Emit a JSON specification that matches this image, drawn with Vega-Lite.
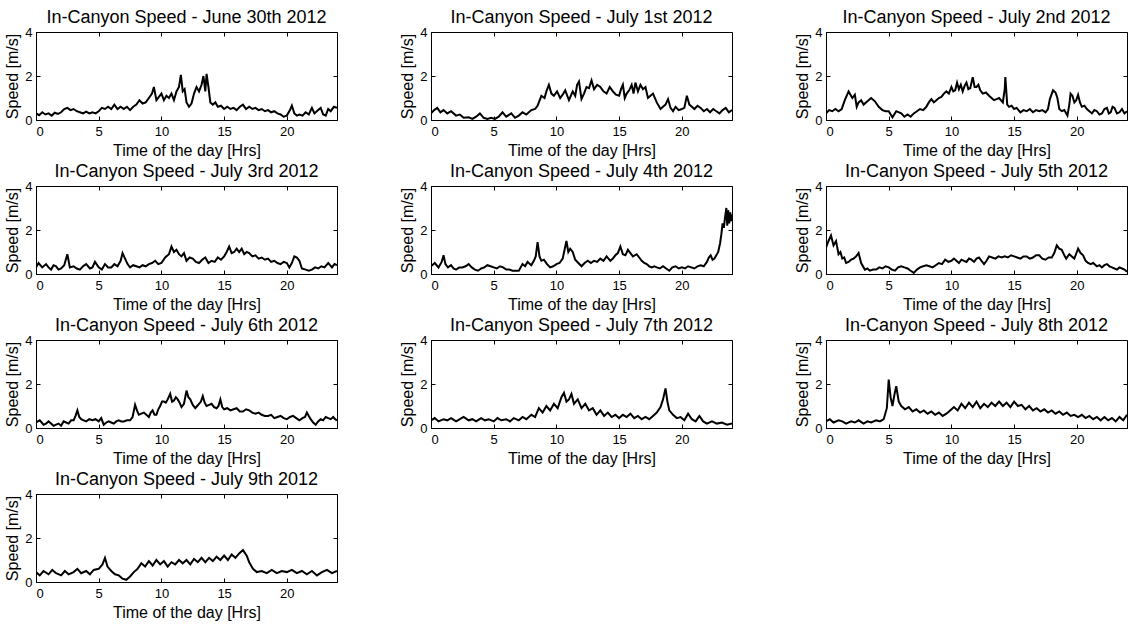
{
  "$schema": "https://vega.github.io/schema/vega-lite/v6.json",
  "background": "white",
  "padding": {"left": 4, "top": 8, "right": 5, "bottom": 5},
  "bounds": "flush",
  "datasets": {
    "days": [
      {"d": 1, "title": "In-Canyon Speed - June 30th 2012"},
      {"d": 2, "title": "In-Canyon Speed - July 1st 2012"},
      {"d": 3, "title": "In-Canyon Speed - July 2nd 2012"},
      {"d": 4, "title": "In-Canyon Speed - July 3rd 2012"},
      {"d": 5, "title": "In-Canyon Speed - July 4th 2012"},
      {"d": 6, "title": "In-Canyon Speed - July 5th 2012"},
      {"d": 7, "title": "In-Canyon Speed - July 6th 2012"},
      {"d": 8, "title": "In-Canyon Speed - July 7th 2012"},
      {"d": 9, "title": "In-Canyon Speed - July 8th 2012"},
      {"d": 10, "title": "In-Canyon Speed - July 9th 2012"}
    ],
    "speed": [
      {"d":1,"t":0,"v":0.3},{"d":1,"t":0.25,"v":0.22},{"d":1,"t":0.5,"v":0.35},{"d":1,"t":0.75,"v":0.25},{"d":1,"t":1,"v":0.3},{"d":1,"t":1.25,"v":0.2},{"d":1,"t":1.5,"v":0.33},{"d":1,"t":1.75,"v":0.28},{"d":1,"t":2,"v":0.35},{"d":1,"t":2.25,"v":0.5},{"d":1,"t":2.5,"v":0.55},{"d":1,"t":2.75,"v":0.45},{"d":1,"t":3,"v":0.5},{"d":1,"t":3.25,"v":0.4},{"d":1,"t":3.5,"v":0.35},{"d":1,"t":3.75,"v":0.3},{"d":1,"t":4,"v":0.38},{"d":1,"t":4.25,"v":0.3},{"d":1,"t":4.5,"v":0.35},{"d":1,"t":4.75,"v":0.3},{"d":1,"t":5,"v":0.4},{"d":1,"t":5.25,"v":0.55},{"d":1,"t":5.5,"v":0.5},{"d":1,"t":5.75,"v":0.6},{"d":1,"t":6,"v":0.5},{"d":1,"t":6.25,"v":0.7},{"d":1,"t":6.5,"v":0.5},{"d":1,"t":6.75,"v":0.6},{"d":1,"t":7,"v":0.5},{"d":1,"t":7.25,"v":0.6},{"d":1,"t":7.5,"v":0.45},{"d":1,"t":7.75,"v":0.6},{"d":1,"t":8,"v":0.7},{"d":1,"t":8.25,"v":0.9},{"d":1,"t":8.5,"v":0.75},{"d":1,"t":8.75,"v":0.8},{"d":1,"t":9,"v":1.0},{"d":1,"t":9.25,"v":1.2},{"d":1,"t":9.4,"v":1.5},{"d":1,"t":9.6,"v":0.9},{"d":1,"t":9.8,"v":1.05},{"d":1,"t":10,"v":1.2},{"d":1,"t":10.2,"v":0.9},{"d":1,"t":10.4,"v":1.1},{"d":1,"t":10.6,"v":1.0},{"d":1,"t":10.8,"v":1.2},{"d":1,"t":11,"v":0.9},{"d":1,"t":11.2,"v":1.3},{"d":1,"t":11.4,"v":1.5},{"d":1,"t":11.55,"v":2.05},{"d":1,"t":11.7,"v":1.3},{"d":1,"t":11.85,"v":1.4},{"d":1,"t":12,"v":0.8},{"d":1,"t":12.2,"v":0.6},{"d":1,"t":12.4,"v":0.75},{"d":1,"t":12.6,"v":1.2},{"d":1,"t":12.8,"v":1.5},{"d":1,"t":13,"v":1.3},{"d":1,"t":13.2,"v":1.6},{"d":1,"t":13.35,"v":2.0},{"d":1,"t":13.5,"v":1.3},{"d":1,"t":13.6,"v":2.1},{"d":1,"t":13.75,"v":1.5},{"d":1,"t":13.9,"v":0.8},{"d":1,"t":14.1,"v":0.7},{"d":1,"t":14.3,"v":0.8},{"d":1,"t":14.5,"v":0.6},{"d":1,"t":14.75,"v":0.65},{"d":1,"t":15,"v":0.5},{"d":1,"t":15.25,"v":0.6},{"d":1,"t":15.5,"v":0.5},{"d":1,"t":15.75,"v":0.55},{"d":1,"t":16,"v":0.45},{"d":1,"t":16.25,"v":0.6},{"d":1,"t":16.5,"v":0.7},{"d":1,"t":16.75,"v":0.5},{"d":1,"t":17,"v":0.6},{"d":1,"t":17.25,"v":0.5},{"d":1,"t":17.5,"v":0.55},{"d":1,"t":17.75,"v":0.45},{"d":1,"t":18,"v":0.5},{"d":1,"t":18.25,"v":0.4},{"d":1,"t":18.5,"v":0.45},{"d":1,"t":18.75,"v":0.35},{"d":1,"t":19,"v":0.4},{"d":1,"t":19.25,"v":0.3},{"d":1,"t":19.5,"v":0.25},{"d":1,"t":19.75,"v":0.15},{"d":1,"t":20,"v":0.2},{"d":1,"t":20.25,"v":0.45},{"d":1,"t":20.4,"v":0.65},{"d":1,"t":20.6,"v":0.3},{"d":1,"t":20.8,"v":0.2},{"d":1,"t":21,"v":0.25},{"d":1,"t":21.25,"v":0.2},{"d":1,"t":21.5,"v":0.35},{"d":1,"t":21.75,"v":0.25},{"d":1,"t":22,"v":0.55},{"d":1,"t":22.2,"v":0.3},{"d":1,"t":22.5,"v":0.45},{"d":1,"t":22.7,"v":0.55},{"d":1,"t":22.9,"v":0.25},{"d":1,"t":23.1,"v":0.2},{"d":1,"t":23.3,"v":0.5},{"d":1,"t":23.5,"v":0.4},{"d":1,"t":23.75,"v":0.6},{"d":1,"t":24,"v":0.55},

      {"d":2,"t":0,"v":0.3},{"d":2,"t":0.25,"v":0.45},{"d":2,"t":0.5,"v":0.55},{"d":2,"t":0.75,"v":0.35},{"d":2,"t":1,"v":0.45},{"d":2,"t":1.3,"v":0.3},{"d":2,"t":1.6,"v":0.4},{"d":2,"t":2,"v":0.2},{"d":2,"t":2.3,"v":0.25},{"d":2,"t":2.6,"v":0.1},{"d":2,"t":3,"v":0.12},{"d":2,"t":3.3,"v":0.05},{"d":2,"t":3.6,"v":0.15},{"d":2,"t":3.9,"v":0.3},{"d":2,"t":4.2,"v":0.1},{"d":2,"t":4.5,"v":0.05},{"d":2,"t":4.8,"v":0.1},{"d":2,"t":5.1,"v":0.05},{"d":2,"t":5.4,"v":0.15},{"d":2,"t":5.7,"v":0.35},{"d":2,"t":6,"v":0.15},{"d":2,"t":6.4,"v":0.3},{"d":2,"t":6.7,"v":0.1},{"d":2,"t":7,"v":0.2},{"d":2,"t":7.3,"v":0.35},{"d":2,"t":7.6,"v":0.25},{"d":2,"t":8,"v":0.45},{"d":2,"t":8.3,"v":0.5},{"d":2,"t":8.5,"v":0.65},{"d":2,"t":8.8,"v":1.1},{"d":2,"t":9.05,"v":1.0},{"d":2,"t":9.2,"v":1.3},{"d":2,"t":9.4,"v":1.6},{"d":2,"t":9.6,"v":1.2},{"d":2,"t":9.8,"v":1.1},{"d":2,"t":10.05,"v":1.3},{"d":2,"t":10.3,"v":1.0},{"d":2,"t":10.5,"v":1.15},{"d":2,"t":10.7,"v":1.35},{"d":2,"t":11,"v":0.9},{"d":2,"t":11.3,"v":1.3},{"d":2,"t":11.5,"v":1.1},{"d":2,"t":11.65,"v":1.6},{"d":2,"t":11.8,"v":1.75},{"d":2,"t":12,"v":0.95},{"d":2,"t":12.2,"v":1.2},{"d":2,"t":12.4,"v":1.5},{"d":2,"t":12.6,"v":1.45},{"d":2,"t":12.8,"v":1.8},{"d":2,"t":13,"v":1.4},{"d":2,"t":13.25,"v":1.6},{"d":2,"t":13.5,"v":1.5},{"d":2,"t":13.75,"v":1.3},{"d":2,"t":14,"v":1.2},{"d":2,"t":14.25,"v":1.5},{"d":2,"t":14.5,"v":1.3},{"d":2,"t":14.75,"v":1.15},{"d":2,"t":15,"v":1.1},{"d":2,"t":15.15,"v":1.4},{"d":2,"t":15.3,"v":1.6},{"d":2,"t":15.45,"v":1.0},{"d":2,"t":15.6,"v":1.2},{"d":2,"t":15.8,"v":1.35},{"d":2,"t":16,"v":1.6},{"d":2,"t":16.15,"v":1.2},{"d":2,"t":16.3,"v":1.7},{"d":2,"t":16.5,"v":1.3},{"d":2,"t":16.7,"v":1.6},{"d":2,"t":16.9,"v":1.4},{"d":2,"t":17.1,"v":1.5},{"d":2,"t":17.3,"v":1.0},{"d":2,"t":17.5,"v":1.1},{"d":2,"t":17.7,"v":1.2},{"d":2,"t":18,"v":0.8},{"d":2,"t":18.3,"v":0.5},{"d":2,"t":18.5,"v":0.6},{"d":2,"t":18.7,"v":0.7},{"d":2,"t":18.9,"v":0.95},{"d":2,"t":19.1,"v":0.55},{"d":2,"t":19.3,"v":0.4},{"d":2,"t":19.5,"v":0.6},{"d":2,"t":19.75,"v":0.45},{"d":2,"t":20,"v":0.5},{"d":2,"t":20.2,"v":0.55},{"d":2,"t":20.4,"v":1.1},{"d":2,"t":20.6,"v":0.7},{"d":2,"t":20.8,"v":0.6},{"d":2,"t":21,"v":0.5},{"d":2,"t":21.25,"v":0.65},{"d":2,"t":21.5,"v":0.55},{"d":2,"t":21.75,"v":0.4},{"d":2,"t":22,"v":0.5},{"d":2,"t":22.25,"v":0.35},{"d":2,"t":22.5,"v":0.5},{"d":2,"t":22.75,"v":0.4},{"d":2,"t":23,"v":0.3},{"d":2,"t":23.25,"v":0.45},{"d":2,"t":23.5,"v":0.55},{"d":2,"t":23.75,"v":0.35},{"d":2,"t":24,"v":0.45},

      {"d":3,"t":0,"v":0.3},{"d":3,"t":0.25,"v":0.45},{"d":3,"t":0.5,"v":0.4},{"d":3,"t":0.75,"v":0.5},{"d":3,"t":1,"v":0.4},{"d":3,"t":1.25,"v":0.5},{"d":3,"t":1.5,"v":0.9},{"d":3,"t":1.8,"v":1.3},{"d":3,"t":2.1,"v":1.0},{"d":3,"t":2.3,"v":1.15},{"d":3,"t":2.45,"v":0.6},{"d":3,"t":2.6,"v":0.8},{"d":3,"t":2.8,"v":0.9},{"d":3,"t":3,"v":0.7},{"d":3,"t":3.3,"v":0.85},{"d":3,"t":3.6,"v":1.0},{"d":3,"t":3.9,"v":0.85},{"d":3,"t":4.2,"v":0.6},{"d":3,"t":4.5,"v":0.45},{"d":3,"t":4.75,"v":0.4},{"d":3,"t":5,"v":0.4},{"d":3,"t":5.3,"v":0.12},{"d":3,"t":5.6,"v":0.4},{"d":3,"t":6,"v":0.3},{"d":3,"t":6.25,"v":0.15},{"d":3,"t":6.5,"v":0.25},{"d":3,"t":6.75,"v":0.15},{"d":3,"t":7,"v":0.3},{"d":3,"t":7.25,"v":0.4},{"d":3,"t":7.5,"v":0.5},{"d":3,"t":7.75,"v":0.45},{"d":3,"t":8,"v":0.6},{"d":3,"t":8.2,"v":0.8},{"d":3,"t":8.4,"v":0.95},{"d":3,"t":8.6,"v":0.8},{"d":3,"t":8.8,"v":0.9},{"d":3,"t":9,"v":1.0},{"d":3,"t":9.2,"v":1.05},{"d":3,"t":9.4,"v":1.2},{"d":3,"t":9.6,"v":1.3},{"d":3,"t":9.8,"v":1.2},{"d":3,"t":10,"v":1.5},{"d":3,"t":10.15,"v":1.3},{"d":3,"t":10.3,"v":1.35},{"d":3,"t":10.45,"v":1.7},{"d":3,"t":10.6,"v":1.4},{"d":3,"t":10.75,"v":1.6},{"d":3,"t":10.9,"v":1.3},{"d":3,"t":11.05,"v":1.55},{"d":3,"t":11.2,"v":1.7},{"d":3,"t":11.35,"v":1.4},{"d":3,"t":11.5,"v":1.45},{"d":3,"t":11.7,"v":1.95},{"d":3,"t":11.85,"v":1.5},{"d":3,"t":12,"v":1.5},{"d":3,"t":12.15,"v":1.6},{"d":3,"t":12.3,"v":1.35},{"d":3,"t":12.5,"v":1.2},{"d":3,"t":12.75,"v":1.25},{"d":3,"t":13,"v":1.1},{"d":3,"t":13.2,"v":1.0},{"d":3,"t":13.4,"v":0.9},{"d":3,"t":13.6,"v":0.95},{"d":3,"t":13.8,"v":1.0},{"d":3,"t":14.1,"v":0.8},{"d":3,"t":14.25,"v":1.4},{"d":3,"t":14.3,"v":1.95},{"d":3,"t":14.45,"v":0.7},{"d":3,"t":14.6,"v":0.6},{"d":3,"t":14.8,"v":0.65},{"d":3,"t":15,"v":0.5},{"d":3,"t":15.2,"v":0.55},{"d":3,"t":15.5,"v":0.35},{"d":3,"t":15.75,"v":0.45},{"d":3,"t":16,"v":0.4},{"d":3,"t":16.25,"v":0.5},{"d":3,"t":16.5,"v":0.35},{"d":3,"t":16.75,"v":0.45},{"d":3,"t":17,"v":0.4},{"d":3,"t":17.25,"v":0.45},{"d":3,"t":17.5,"v":0.35},{"d":3,"t":17.7,"v":0.5},{"d":3,"t":17.85,"v":0.95},{"d":3,"t":18.1,"v":1.35},{"d":3,"t":18.3,"v":1.25},{"d":3,"t":18.45,"v":1.0},{"d":3,"t":18.6,"v":0.5},{"d":3,"t":18.8,"v":0.4},{"d":3,"t":19,"v":0.45},{"d":3,"t":19.25,"v":0.2},{"d":3,"t":19.4,"v":0.7},{"d":3,"t":19.5,"v":1.2},{"d":3,"t":19.65,"v":1.1},{"d":3,"t":19.8,"v":0.8},{"d":3,"t":19.95,"v":0.9},{"d":3,"t":20.1,"v":1.15},{"d":3,"t":20.25,"v":0.8},{"d":3,"t":20.4,"v":0.6},{"d":3,"t":20.6,"v":0.65},{"d":3,"t":20.8,"v":0.5},{"d":3,"t":21,"v":0.4},{"d":3,"t":21.2,"v":0.3},{"d":3,"t":21.4,"v":0.45},{"d":3,"t":21.6,"v":0.4},{"d":3,"t":21.8,"v":0.25},{"d":3,"t":22,"v":0.3},{"d":3,"t":22.2,"v":0.5},{"d":3,"t":22.4,"v":0.55},{"d":3,"t":22.55,"v":0.3},{"d":3,"t":22.7,"v":0.35},{"d":3,"t":22.85,"v":0.6},{"d":3,"t":23,"v":0.55},{"d":3,"t":23.2,"v":0.3},{"d":3,"t":23.4,"v":0.35},{"d":3,"t":23.6,"v":0.5},{"d":3,"t":23.8,"v":0.3},{"d":3,"t":24,"v":0.4},

      {"d":4,"t":0,"v":0.3},{"d":4,"t":0.2,"v":0.5},{"d":4,"t":0.5,"v":0.3},{"d":4,"t":0.8,"v":0.45},{"d":4,"t":1,"v":0.3},{"d":4,"t":1.2,"v":0.2},{"d":4,"t":1.4,"v":0.4},{"d":4,"t":1.6,"v":0.35},{"d":4,"t":1.8,"v":0.2},{"d":4,"t":2,"v":0.25},{"d":4,"t":2.25,"v":0.4},{"d":4,"t":2.5,"v":0.9},{"d":4,"t":2.7,"v":0.3},{"d":4,"t":3,"v":0.35},{"d":4,"t":3.25,"v":0.25},{"d":4,"t":3.5,"v":0.2},{"d":4,"t":3.75,"v":0.35},{"d":4,"t":4,"v":0.45},{"d":4,"t":4.3,"v":0.25},{"d":4,"t":4.5,"v":0.3},{"d":4,"t":4.7,"v":0.55},{"d":4,"t":5,"v":0.3},{"d":4,"t":5.25,"v":0.2},{"d":4,"t":5.5,"v":0.45},{"d":4,"t":5.75,"v":0.3},{"d":4,"t":6,"v":0.3},{"d":4,"t":6.25,"v":0.45},{"d":4,"t":6.5,"v":0.35},{"d":4,"t":6.75,"v":0.6},{"d":4,"t":6.9,"v":0.95},{"d":4,"t":7.1,"v":0.7},{"d":4,"t":7.3,"v":0.45},{"d":4,"t":7.5,"v":0.3},{"d":4,"t":7.75,"v":0.4},{"d":4,"t":8,"v":0.35},{"d":4,"t":8.25,"v":0.3},{"d":4,"t":8.5,"v":0.4},{"d":4,"t":8.75,"v":0.35},{"d":4,"t":9,"v":0.45},{"d":4,"t":9.25,"v":0.5},{"d":4,"t":9.5,"v":0.6},{"d":4,"t":9.75,"v":0.45},{"d":4,"t":10,"v":0.5},{"d":4,"t":10.3,"v":0.75},{"d":4,"t":10.6,"v":0.9},{"d":4,"t":10.8,"v":1.25},{"d":4,"t":11,"v":1.0},{"d":4,"t":11.2,"v":1.1},{"d":4,"t":11.4,"v":0.9},{"d":4,"t":11.6,"v":0.8},{"d":4,"t":11.8,"v":0.95},{"d":4,"t":12,"v":0.6},{"d":4,"t":12.25,"v":0.75},{"d":4,"t":12.5,"v":0.7},{"d":4,"t":12.75,"v":0.55},{"d":4,"t":13,"v":0.5},{"d":4,"t":13.25,"v":0.65},{"d":4,"t":13.5,"v":0.75},{"d":4,"t":13.75,"v":0.5},{"d":4,"t":14,"v":0.6},{"d":4,"t":14.25,"v":0.55},{"d":4,"t":14.5,"v":0.75},{"d":4,"t":14.75,"v":0.65},{"d":4,"t":15,"v":0.8},{"d":4,"t":15.2,"v":1.0},{"d":4,"t":15.4,"v":1.25},{"d":4,"t":15.6,"v":0.95},{"d":4,"t":15.8,"v":1.0},{"d":4,"t":16,"v":1.15},{"d":4,"t":16.2,"v":1.0},{"d":4,"t":16.4,"v":1.15},{"d":4,"t":16.6,"v":0.9},{"d":4,"t":16.8,"v":1.0},{"d":4,"t":17,"v":0.95},{"d":4,"t":17.25,"v":0.8},{"d":4,"t":17.5,"v":0.85},{"d":4,"t":17.75,"v":0.7},{"d":4,"t":18,"v":0.75},{"d":4,"t":18.25,"v":0.65},{"d":4,"t":18.5,"v":0.7},{"d":4,"t":18.75,"v":0.55},{"d":4,"t":19,"v":0.6},{"d":4,"t":19.25,"v":0.5},{"d":4,"t":19.5,"v":0.45},{"d":4,"t":19.75,"v":0.55},{"d":4,"t":20,"v":0.5},{"d":4,"t":20.2,"v":0.3},{"d":4,"t":20.4,"v":0.5},{"d":4,"t":20.6,"v":0.8},{"d":4,"t":20.8,"v":0.75},{"d":4,"t":21,"v":0.6},{"d":4,"t":21.2,"v":0.25},{"d":4,"t":21.5,"v":0.2},{"d":4,"t":21.75,"v":0.15},{"d":4,"t":22,"v":0.2},{"d":4,"t":22.25,"v":0.3},{"d":4,"t":22.5,"v":0.25},{"d":4,"t":22.75,"v":0.35},{"d":4,"t":23,"v":0.3},{"d":4,"t":23.3,"v":0.5},{"d":4,"t":23.6,"v":0.3},{"d":4,"t":23.8,"v":0.45},{"d":4,"t":24,"v":0.4},

      {"d":5,"t":0,"v":0.35},{"d":5,"t":0.3,"v":0.5},{"d":5,"t":0.6,"v":0.3},{"d":5,"t":0.85,"v":0.55},{"d":5,"t":1,"v":0.85},{"d":5,"t":1.15,"v":0.45},{"d":5,"t":1.35,"v":0.3},{"d":5,"t":1.6,"v":0.4},{"d":5,"t":1.8,"v":0.25},{"d":5,"t":2,"v":0.2},{"d":5,"t":2.25,"v":0.3},{"d":5,"t":2.5,"v":0.3},{"d":5,"t":2.75,"v":0.35},{"d":5,"t":3,"v":0.45},{"d":5,"t":3.25,"v":0.3},{"d":5,"t":3.5,"v":0.2},{"d":5,"t":3.75,"v":0.15},{"d":5,"t":4,"v":0.25},{"d":5,"t":4.25,"v":0.3},{"d":5,"t":4.5,"v":0.4},{"d":5,"t":4.75,"v":0.35},{"d":5,"t":5,"v":0.3},{"d":5,"t":5.25,"v":0.25},{"d":5,"t":5.5,"v":0.35},{"d":5,"t":5.75,"v":0.3},{"d":5,"t":6,"v":0.2},{"d":5,"t":6.25,"v":0.2},{"d":5,"t":6.5,"v":0.15},{"d":5,"t":6.75,"v":0.15},{"d":5,"t":7,"v":0.15},{"d":5,"t":7.3,"v":0.45},{"d":5,"t":7.5,"v":0.35},{"d":5,"t":7.7,"v":0.55},{"d":5,"t":8,"v":0.4},{"d":5,"t":8.2,"v":0.6},{"d":5,"t":8.35,"v":0.8},{"d":5,"t":8.5,"v":1.45},{"d":5,"t":8.65,"v":0.8},{"d":5,"t":8.8,"v":0.6},{"d":5,"t":9,"v":0.65},{"d":5,"t":9.25,"v":0.45},{"d":5,"t":9.5,"v":0.3},{"d":5,"t":9.75,"v":0.35},{"d":5,"t":10,"v":0.45},{"d":5,"t":10.25,"v":0.5},{"d":5,"t":10.5,"v":0.7},{"d":5,"t":10.65,"v":1.1},{"d":5,"t":10.8,"v":1.5},{"d":5,"t":10.95,"v":1.0},{"d":5,"t":11.1,"v":1.15},{"d":5,"t":11.3,"v":1.0},{"d":5,"t":11.5,"v":0.65},{"d":5,"t":11.75,"v":0.5},{"d":5,"t":12,"v":0.35},{"d":5,"t":12.25,"v":0.5},{"d":5,"t":12.5,"v":0.6},{"d":5,"t":12.75,"v":0.5},{"d":5,"t":13,"v":0.6},{"d":5,"t":13.25,"v":0.55},{"d":5,"t":13.5,"v":0.7},{"d":5,"t":13.75,"v":0.6},{"d":5,"t":14,"v":0.8},{"d":5,"t":14.3,"v":0.6},{"d":5,"t":14.5,"v":0.7},{"d":5,"t":14.7,"v":0.85},{"d":5,"t":14.9,"v":0.95},{"d":5,"t":15.1,"v":1.25},{"d":5,"t":15.3,"v":0.9},{"d":5,"t":15.5,"v":0.85},{"d":5,"t":15.7,"v":1.1},{"d":5,"t":15.9,"v":0.95},{"d":5,"t":16.1,"v":0.8},{"d":5,"t":16.4,"v":0.9},{"d":5,"t":16.6,"v":0.75},{"d":5,"t":16.8,"v":0.6},{"d":5,"t":17,"v":0.5},{"d":5,"t":17.2,"v":0.45},{"d":5,"t":17.4,"v":0.35},{"d":5,"t":17.6,"v":0.3},{"d":5,"t":17.8,"v":0.35},{"d":5,"t":18,"v":0.3},{"d":5,"t":18.25,"v":0.25},{"d":5,"t":18.5,"v":0.35},{"d":5,"t":18.75,"v":0.25},{"d":5,"t":19,"v":0.15},{"d":5,"t":19.25,"v":0.3},{"d":5,"t":19.5,"v":0.35},{"d":5,"t":19.75,"v":0.25},{"d":5,"t":20,"v":0.3},{"d":5,"t":20.25,"v":0.25},{"d":5,"t":20.5,"v":0.35},{"d":5,"t":20.75,"v":0.3},{"d":5,"t":21,"v":0.25},{"d":5,"t":21.25,"v":0.35},{"d":5,"t":21.5,"v":0.4},{"d":5,"t":21.75,"v":0.35},{"d":5,"t":22,"v":0.55},{"d":5,"t":22.15,"v":0.75},{"d":5,"t":22.3,"v":0.85},{"d":5,"t":22.45,"v":0.65},{"d":5,"t":22.6,"v":0.7},{"d":5,"t":22.75,"v":0.85},{"d":5,"t":22.9,"v":1.0},{"d":5,"t":23.05,"v":1.4},{"d":5,"t":23.15,"v":1.8},{"d":5,"t":23.25,"v":2.3},{"d":5,"t":23.35,"v":2.1},{"d":5,"t":23.45,"v":2.6},{"d":5,"t":23.55,"v":3.0},{"d":5,"t":23.62,"v":2.2},{"d":5,"t":23.7,"v":2.9},{"d":5,"t":23.78,"v":2.3},{"d":5,"t":23.86,"v":2.8},{"d":5,"t":23.93,"v":2.4},{"d":5,"t":24,"v":2.7},

      {"d":6,"t":0,"v":1.2},{"d":6,"t":0.2,"v":1.5},{"d":6,"t":0.4,"v":1.75},{"d":6,"t":0.6,"v":1.3},{"d":6,"t":0.8,"v":1.5},{"d":6,"t":1,"v":0.9},{"d":6,"t":1.15,"v":1.0},{"d":6,"t":1.3,"v":0.7},{"d":6,"t":1.45,"v":0.75},{"d":6,"t":1.6,"v":0.5},{"d":6,"t":1.8,"v":0.55},{"d":6,"t":2,"v":0.65},{"d":6,"t":2.2,"v":0.7},{"d":6,"t":2.4,"v":0.8},{"d":6,"t":2.6,"v":0.95},{"d":6,"t":2.8,"v":0.5},{"d":6,"t":3.1,"v":0.2},{"d":6,"t":3.3,"v":0.25},{"d":6,"t":3.5,"v":0.15},{"d":6,"t":3.75,"v":0.2},{"d":6,"t":4,"v":0.2},{"d":6,"t":4.25,"v":0.3},{"d":6,"t":4.5,"v":0.25},{"d":6,"t":4.75,"v":0.35},{"d":6,"t":5,"v":0.3},{"d":6,"t":5.25,"v":0.2},{"d":6,"t":5.5,"v":0.15},{"d":6,"t":5.75,"v":0.3},{"d":6,"t":6,"v":0.35},{"d":6,"t":6.25,"v":0.3},{"d":6,"t":6.5,"v":0.25},{"d":6,"t":6.75,"v":0.15},{"d":6,"t":7,"v":0.05},{"d":6,"t":7.25,"v":0.2},{"d":6,"t":7.5,"v":0.3},{"d":6,"t":7.75,"v":0.35},{"d":6,"t":8,"v":0.4},{"d":6,"t":8.25,"v":0.35},{"d":6,"t":8.5,"v":0.3},{"d":6,"t":8.75,"v":0.4},{"d":6,"t":9,"v":0.5},{"d":6,"t":9.25,"v":0.45},{"d":6,"t":9.5,"v":0.65},{"d":6,"t":9.75,"v":0.55},{"d":6,"t":10,"v":0.6},{"d":6,"t":10.2,"v":0.7},{"d":6,"t":10.4,"v":0.6},{"d":6,"t":10.6,"v":0.5},{"d":6,"t":10.8,"v":0.65},{"d":6,"t":11,"v":0.6},{"d":6,"t":11.2,"v":0.55},{"d":6,"t":11.4,"v":0.7},{"d":6,"t":11.6,"v":0.65},{"d":6,"t":11.8,"v":0.55},{"d":6,"t":12,"v":0.7},{"d":6,"t":12.2,"v":0.75},{"d":6,"t":12.4,"v":0.6},{"d":6,"t":12.6,"v":0.45},{"d":6,"t":12.8,"v":0.6},{"d":6,"t":13,"v":0.8},{"d":6,"t":13.25,"v":0.75},{"d":6,"t":13.5,"v":0.7},{"d":6,"t":13.75,"v":0.8},{"d":6,"t":14,"v":0.75},{"d":6,"t":14.25,"v":0.8},{"d":6,"t":14.5,"v":0.75},{"d":6,"t":14.75,"v":0.85},{"d":6,"t":15,"v":0.8},{"d":6,"t":15.25,"v":0.75},{"d":6,"t":15.5,"v":0.7},{"d":6,"t":15.75,"v":0.8},{"d":6,"t":16,"v":0.8},{"d":6,"t":16.25,"v":0.7},{"d":6,"t":16.5,"v":0.75},{"d":6,"t":16.75,"v":0.85},{"d":6,"t":17,"v":0.85},{"d":6,"t":17.25,"v":0.7},{"d":6,"t":17.5,"v":0.65},{"d":6,"t":17.75,"v":0.75},{"d":6,"t":18,"v":0.75},{"d":6,"t":18.2,"v":0.95},{"d":6,"t":18.4,"v":1.3},{"d":6,"t":18.6,"v":1.15},{"d":6,"t":18.8,"v":1.1},{"d":6,"t":19,"v":0.85},{"d":6,"t":19.15,"v":0.7},{"d":6,"t":19.4,"v":0.9},{"d":6,"t":19.6,"v":0.8},{"d":6,"t":19.8,"v":0.7},{"d":6,"t":20,"v":1.0},{"d":6,"t":20.1,"v":1.15},{"d":6,"t":20.3,"v":0.95},{"d":6,"t":20.5,"v":0.85},{"d":6,"t":20.7,"v":0.6},{"d":6,"t":20.9,"v":0.5},{"d":6,"t":21.1,"v":0.45},{"d":6,"t":21.3,"v":0.5},{"d":6,"t":21.6,"v":0.35},{"d":6,"t":21.8,"v":0.4},{"d":6,"t":22,"v":0.3},{"d":6,"t":22.2,"v":0.4},{"d":6,"t":22.4,"v":0.45},{"d":6,"t":22.6,"v":0.35},{"d":6,"t":22.8,"v":0.3},{"d":6,"t":23,"v":0.25},{"d":6,"t":23.2,"v":0.2},{"d":6,"t":23.4,"v":0.3},{"d":6,"t":23.6,"v":0.25},{"d":6,"t":23.8,"v":0.2},{"d":6,"t":24,"v":0.1},

      {"d":7,"t":0,"v":0.25},{"d":7,"t":0.3,"v":0.35},{"d":7,"t":0.6,"v":0.15},{"d":7,"t":0.8,"v":0.2},{"d":7,"t":1,"v":0.3},{"d":7,"t":1.2,"v":0.2},{"d":7,"t":1.4,"v":0.1},{"d":7,"t":1.6,"v":0.15},{"d":7,"t":1.8,"v":0.2},{"d":7,"t":2,"v":0.1},{"d":7,"t":2.2,"v":0.3},{"d":7,"t":2.4,"v":0.25},{"d":7,"t":2.6,"v":0.2},{"d":7,"t":2.8,"v":0.35},{"d":7,"t":3,"v":0.35},{"d":7,"t":3.15,"v":0.55},{"d":7,"t":3.3,"v":0.8},{"d":7,"t":3.45,"v":0.5},{"d":7,"t":3.6,"v":0.4},{"d":7,"t":3.8,"v":0.35},{"d":7,"t":4,"v":0.3},{"d":7,"t":4.25,"v":0.4},{"d":7,"t":4.5,"v":0.35},{"d":7,"t":4.75,"v":0.4},{"d":7,"t":5,"v":0.3},{"d":7,"t":5.2,"v":0.45},{"d":7,"t":5.4,"v":0.15},{"d":7,"t":5.6,"v":0.25},{"d":7,"t":5.8,"v":0.3},{"d":7,"t":6,"v":0.25},{"d":7,"t":6.2,"v":0.2},{"d":7,"t":6.4,"v":0.3},{"d":7,"t":6.6,"v":0.35},{"d":7,"t":6.8,"v":0.3},{"d":7,"t":7,"v":0.3},{"d":7,"t":7.25,"v":0.35},{"d":7,"t":7.5,"v":0.35},{"d":7,"t":7.7,"v":0.5},{"d":7,"t":7.9,"v":1.05},{"d":7,"t":8.05,"v":0.8},{"d":7,"t":8.2,"v":0.6},{"d":7,"t":8.4,"v":0.65},{"d":7,"t":8.6,"v":0.7},{"d":7,"t":8.8,"v":0.6},{"d":7,"t":9,"v":0.5},{"d":7,"t":9.15,"v":0.7},{"d":7,"t":9.3,"v":0.8},{"d":7,"t":9.45,"v":0.6},{"d":7,"t":9.6,"v":0.6},{"d":7,"t":9.75,"v":0.85},{"d":7,"t":9.9,"v":1.0},{"d":7,"t":10.05,"v":1.2},{"d":7,"t":10.2,"v":1.2},{"d":7,"t":10.35,"v":1.15},{"d":7,"t":10.5,"v":1.3},{"d":7,"t":10.7,"v":1.55},{"d":7,"t":10.85,"v":1.2},{"d":7,"t":11,"v":1.25},{"d":7,"t":11.15,"v":1.4},{"d":7,"t":11.3,"v":1.3},{"d":7,"t":11.45,"v":1.15},{"d":7,"t":11.6,"v":0.95},{"d":7,"t":11.8,"v":1.1},{"d":7,"t":12,"v":1.7},{"d":7,"t":12.15,"v":1.4},{"d":7,"t":12.3,"v":1.3},{"d":7,"t":12.5,"v":1.05},{"d":7,"t":12.7,"v":0.9},{"d":7,"t":12.85,"v":1.0},{"d":7,"t":13,"v":1.1},{"d":7,"t":13.15,"v":1.2},{"d":7,"t":13.3,"v":1.45},{"d":7,"t":13.45,"v":1.15},{"d":7,"t":13.6,"v":1.0},{"d":7,"t":13.8,"v":1.05},{"d":7,"t":14,"v":1.1},{"d":7,"t":14.2,"v":0.95},{"d":7,"t":14.4,"v":0.9},{"d":7,"t":14.55,"v":1.0},{"d":7,"t":14.7,"v":1.3},{"d":7,"t":14.85,"v":0.95},{"d":7,"t":15,"v":0.85},{"d":7,"t":15.25,"v":0.9},{"d":7,"t":15.5,"v":0.8},{"d":7,"t":15.75,"v":0.85},{"d":7,"t":16,"v":0.9},{"d":7,"t":16.25,"v":0.75},{"d":7,"t":16.5,"v":0.75},{"d":7,"t":16.75,"v":0.85},{"d":7,"t":17,"v":0.8},{"d":7,"t":17.25,"v":0.7},{"d":7,"t":17.5,"v":0.65},{"d":7,"t":17.75,"v":0.7},{"d":7,"t":18,"v":0.6},{"d":7,"t":18.25,"v":0.55},{"d":7,"t":18.5,"v":0.55},{"d":7,"t":18.75,"v":0.6},{"d":7,"t":19,"v":0.45},{"d":7,"t":19.25,"v":0.5},{"d":7,"t":19.5,"v":0.55},{"d":7,"t":19.75,"v":0.45},{"d":7,"t":20,"v":0.4},{"d":7,"t":20.25,"v":0.5},{"d":7,"t":20.5,"v":0.55},{"d":7,"t":20.75,"v":0.45},{"d":7,"t":21,"v":0.35},{"d":7,"t":21.25,"v":0.45},{"d":7,"t":21.45,"v":0.5},{"d":7,"t":21.6,"v":0.7},{"d":7,"t":21.75,"v":0.55},{"d":7,"t":21.9,"v":0.4},{"d":7,"t":22.1,"v":0.25},{"d":7,"t":22.3,"v":0.15},{"d":7,"t":22.5,"v":0.3},{"d":7,"t":22.7,"v":0.4},{"d":7,"t":22.9,"v":0.35},{"d":7,"t":23.1,"v":0.5},{"d":7,"t":23.3,"v":0.45},{"d":7,"t":23.5,"v":0.4},{"d":7,"t":23.7,"v":0.5},{"d":7,"t":23.85,"v":0.4},{"d":7,"t":24,"v":0.35},

      {"d":8,"t":0,"v":0.35},{"d":8,"t":0.3,"v":0.45},{"d":8,"t":0.6,"v":0.3},{"d":8,"t":1,"v":0.4},{"d":8,"t":1.3,"v":0.35},{"d":8,"t":1.6,"v":0.45},{"d":8,"t":2,"v":0.3},{"d":8,"t":2.3,"v":0.4},{"d":8,"t":2.6,"v":0.5},{"d":8,"t":3,"v":0.35},{"d":8,"t":3.3,"v":0.4},{"d":8,"t":3.6,"v":0.3},{"d":8,"t":4,"v":0.45},{"d":8,"t":4.3,"v":0.35},{"d":8,"t":4.6,"v":0.4},{"d":8,"t":5,"v":0.3},{"d":8,"t":5.3,"v":0.45},{"d":8,"t":5.6,"v":0.35},{"d":8,"t":6,"v":0.4},{"d":8,"t":6.3,"v":0.3},{"d":8,"t":6.6,"v":0.45},{"d":8,"t":7,"v":0.35},{"d":8,"t":7.3,"v":0.5},{"d":8,"t":7.6,"v":0.4},{"d":8,"t":8,"v":0.6},{"d":8,"t":8.3,"v":0.5},{"d":8,"t":8.6,"v":0.9},{"d":8,"t":8.9,"v":0.7},{"d":8,"t":9.2,"v":1.0},{"d":8,"t":9.5,"v":0.8},{"d":8,"t":9.8,"v":1.1},{"d":8,"t":10.1,"v":0.9},{"d":8,"t":10.4,"v":1.4},{"d":8,"t":10.6,"v":1.6},{"d":8,"t":10.8,"v":1.2},{"d":8,"t":11,"v":1.3},{"d":8,"t":11.2,"v":1.55},{"d":8,"t":11.4,"v":1.1},{"d":8,"t":11.7,"v":1.3},{"d":8,"t":12,"v":0.9},{"d":8,"t":12.3,"v":1.1},{"d":8,"t":12.6,"v":0.8},{"d":8,"t":12.9,"v":0.9},{"d":8,"t":13.2,"v":0.6},{"d":8,"t":13.5,"v":0.8},{"d":8,"t":13.8,"v":0.55},{"d":8,"t":14.1,"v":0.7},{"d":8,"t":14.4,"v":0.5},{"d":8,"t":14.7,"v":0.6},{"d":8,"t":15,"v":0.45},{"d":8,"t":15.3,"v":0.6},{"d":8,"t":15.6,"v":0.5},{"d":8,"t":15.9,"v":0.65},{"d":8,"t":16.2,"v":0.45},{"d":8,"t":16.5,"v":0.55},{"d":8,"t":16.8,"v":0.4},{"d":8,"t":17.1,"v":0.5},{"d":8,"t":17.4,"v":0.4},{"d":8,"t":17.7,"v":0.55},{"d":8,"t":18,"v":0.7},{"d":8,"t":18.3,"v":0.95},{"d":8,"t":18.5,"v":1.3},{"d":8,"t":18.7,"v":1.8},{"d":8,"t":18.85,"v":1.2},{"d":8,"t":19,"v":0.8},{"d":8,"t":19.3,"v":0.6},{"d":8,"t":19.6,"v":0.45},{"d":8,"t":19.9,"v":0.5},{"d":8,"t":20.2,"v":0.35},{"d":8,"t":20.5,"v":0.65},{"d":8,"t":20.8,"v":0.4},{"d":8,"t":21.1,"v":0.3},{"d":8,"t":21.4,"v":0.55},{"d":8,"t":21.7,"v":0.3},{"d":8,"t":22,"v":0.2},{"d":8,"t":22.4,"v":0.3},{"d":8,"t":22.8,"v":0.2},{"d":8,"t":23.2,"v":0.25},{"d":8,"t":23.6,"v":0.15},{"d":8,"t":24,"v":0.2},

      {"d":9,"t":0,"v":0.3},{"d":9,"t":0.3,"v":0.4},{"d":9,"t":0.6,"v":0.25},{"d":9,"t":1,"v":0.35},{"d":9,"t":1.3,"v":0.3},{"d":9,"t":1.6,"v":0.2},{"d":9,"t":2,"v":0.3},{"d":9,"t":2.3,"v":0.25},{"d":9,"t":2.6,"v":0.35},{"d":9,"t":3,"v":0.2},{"d":9,"t":3.3,"v":0.3},{"d":9,"t":3.6,"v":0.25},{"d":9,"t":4,"v":0.35},{"d":9,"t":4.3,"v":0.3},{"d":9,"t":4.6,"v":0.4},{"d":9,"t":4.85,"v":0.9},{"d":9,"t":5,"v":2.2},{"d":9,"t":5.15,"v":1.4},{"d":9,"t":5.3,"v":1.0},{"d":9,"t":5.45,"v":1.5},{"d":9,"t":5.6,"v":1.9},{"d":9,"t":5.8,"v":1.2},{"d":9,"t":6,"v":1.0},{"d":9,"t":6.3,"v":0.85},{"d":9,"t":6.6,"v":0.95},{"d":9,"t":6.9,"v":0.75},{"d":9,"t":7.2,"v":0.85},{"d":9,"t":7.5,"v":0.7},{"d":9,"t":7.8,"v":0.8},{"d":9,"t":8.1,"v":0.65},{"d":9,"t":8.4,"v":0.75},{"d":9,"t":8.7,"v":0.6},{"d":9,"t":9,"v":0.7},{"d":9,"t":9.3,"v":0.55},{"d":9,"t":9.6,"v":0.65},{"d":9,"t":9.9,"v":0.8},{"d":9,"t":10.2,"v":0.95},{"d":9,"t":10.5,"v":0.8},{"d":9,"t":10.8,"v":1.1},{"d":9,"t":11.1,"v":0.9},{"d":9,"t":11.4,"v":1.15},{"d":9,"t":11.7,"v":0.95},{"d":9,"t":12,"v":1.2},{"d":9,"t":12.3,"v":0.9},{"d":9,"t":12.6,"v":1.1},{"d":9,"t":12.9,"v":0.95},{"d":9,"t":13.2,"v":1.15},{"d":9,"t":13.5,"v":1.0},{"d":9,"t":13.8,"v":1.2},{"d":9,"t":14.1,"v":1.0},{"d":9,"t":14.4,"v":1.15},{"d":9,"t":14.7,"v":0.95},{"d":9,"t":15,"v":1.2},{"d":9,"t":15.3,"v":1.0},{"d":9,"t":15.6,"v":1.05},{"d":9,"t":15.9,"v":0.85},{"d":9,"t":16.2,"v":1.0},{"d":9,"t":16.5,"v":0.8},{"d":9,"t":16.8,"v":0.9},{"d":9,"t":17.1,"v":0.75},{"d":9,"t":17.4,"v":0.85},{"d":9,"t":17.7,"v":0.7},{"d":9,"t":18,"v":0.8},{"d":9,"t":18.3,"v":0.65},{"d":9,"t":18.6,"v":0.75},{"d":9,"t":18.9,"v":0.6},{"d":9,"t":19.2,"v":0.7},{"d":9,"t":19.5,"v":0.55},{"d":9,"t":19.8,"v":0.6},{"d":9,"t":20.1,"v":0.5},{"d":9,"t":20.4,"v":0.6},{"d":9,"t":20.7,"v":0.45},{"d":9,"t":21,"v":0.55},{"d":9,"t":21.3,"v":0.4},{"d":9,"t":21.6,"v":0.5},{"d":9,"t":21.9,"v":0.35},{"d":9,"t":22.2,"v":0.5},{"d":9,"t":22.5,"v":0.35},{"d":9,"t":22.8,"v":0.45},{"d":9,"t":23.1,"v":0.3},{"d":9,"t":23.4,"v":0.5},{"d":9,"t":23.7,"v":0.35},{"d":9,"t":24,"v":0.6},

      {"d":10,"t":0,"v":0.45},{"d":10,"t":0.3,"v":0.3},{"d":10,"t":0.6,"v":0.5},{"d":10,"t":1,"v":0.35},{"d":10,"t":1.3,"v":0.55},{"d":10,"t":1.6,"v":0.4},{"d":10,"t":2,"v":0.3},{"d":10,"t":2.3,"v":0.5},{"d":10,"t":2.6,"v":0.35},{"d":10,"t":3,"v":0.45},{"d":10,"t":3.3,"v":0.6},{"d":10,"t":3.6,"v":0.4},{"d":10,"t":4,"v":0.5},{"d":10,"t":4.3,"v":0.35},{"d":10,"t":4.6,"v":0.55},{"d":10,"t":5,"v":0.6},{"d":10,"t":5.3,"v":0.8},{"d":10,"t":5.5,"v":1.1},{"d":10,"t":5.7,"v":0.7},{"d":10,"t":6,"v":0.5},{"d":10,"t":6.3,"v":0.35},{"d":10,"t":6.6,"v":0.3},{"d":10,"t":6.9,"v":0.15},{"d":10,"t":7.2,"v":0.1},{"d":10,"t":7.5,"v":0.25},{"d":10,"t":7.8,"v":0.45},{"d":10,"t":8.1,"v":0.6},{"d":10,"t":8.4,"v":0.85},{"d":10,"t":8.7,"v":0.7},{"d":10,"t":9,"v":0.95},{"d":10,"t":9.3,"v":0.75},{"d":10,"t":9.6,"v":1.0},{"d":10,"t":9.9,"v":0.8},{"d":10,"t":10.2,"v":0.95},{"d":10,"t":10.5,"v":0.7},{"d":10,"t":10.8,"v":0.9},{"d":10,"t":11.1,"v":0.8},{"d":10,"t":11.4,"v":1.0},{"d":10,"t":11.7,"v":0.85},{"d":10,"t":12,"v":1.0},{"d":10,"t":12.3,"v":0.8},{"d":10,"t":12.6,"v":1.05},{"d":10,"t":12.9,"v":0.9},{"d":10,"t":13.2,"v":1.1},{"d":10,"t":13.5,"v":0.9},{"d":10,"t":13.8,"v":1.1},{"d":10,"t":14.1,"v":0.95},{"d":10,"t":14.4,"v":1.15},{"d":10,"t":14.7,"v":1.0},{"d":10,"t":15,"v":1.2},{"d":10,"t":15.3,"v":1.0},{"d":10,"t":15.6,"v":1.25},{"d":10,"t":15.9,"v":1.1},{"d":10,"t":16.2,"v":1.3},{"d":10,"t":16.5,"v":1.45},{"d":10,"t":16.8,"v":1.2},{"d":10,"t":17,"v":0.9},{"d":10,"t":17.3,"v":0.6},{"d":10,"t":17.6,"v":0.45},{"d":10,"t":18,"v":0.5},{"d":10,"t":18.4,"v":0.4},{"d":10,"t":18.8,"v":0.55},{"d":10,"t":19.2,"v":0.4},{"d":10,"t":19.6,"v":0.5},{"d":10,"t":20,"v":0.45},{"d":10,"t":20.4,"v":0.55},{"d":10,"t":20.8,"v":0.4},{"d":10,"t":21.2,"v":0.5},{"d":10,"t":21.6,"v":0.35},{"d":10,"t":22,"v":0.5},{"d":10,"t":22.4,"v":0.3},{"d":10,"t":22.8,"v":0.45},{"d":10,"t":23.2,"v":0.55},{"d":10,"t":23.6,"v":0.4},{"d":10,"t":24,"v":0.5}
    ]
  },
  "data": {"name": "speed"},
  "transform": [
    {"lookup": "d", "from": {"data": {"name": "days"}, "key": "d", "fields": ["title"]}}
  ],
  "facet": {
    "field": "title",
    "type": "nominal",
    "sort": {"field": "d", "op": "min"},
    "header": {
      "title": null,
      "labelFont": "Liberation Sans",
      "labelFontSize": 18,
      "labelColor": "black",
      "labelPadding": -1,
      "labelLimit": 0
    }
  },
  "columns": 3,
  "spacing": {"row": 66, "column": 94},
  "resolve": {"axis": {"x": "independent", "y": "independent"}},
  "spec": {
    "width": 301,
    "height": 88,
    "layer": [
      {
        "mark": {"type": "line", "color": "black", "strokeWidth": 2, "clip": true},
        "encoding": {
          "x": {
            "field": "t", "type": "quantitative",
            "scale": {"domain": [0, 24], "nice": false},
            "axis": {"orient": "bottom", "values": [0, 5, 10, 15, 20], "title": "Time of the day [Hrs]"}
          },
          "y": {
            "field": "v", "type": "quantitative",
            "scale": {"domain": [0, 4], "nice": false},
            "axis": {"orient": "left", "values": [0, 2, 4], "title": "Speed [m/s]"}
          }
        }
      },
      {
        "mark": {"type": "line", "strokeOpacity": 0},
        "encoding": {
          "x": {
            "field": "t", "type": "quantitative",
            "axis": {"orient": "top", "values": [0, 5, 10, 15, 20], "labels": false, "title": null, "domain": false}
          },
          "y": {
            "field": "v", "type": "quantitative",
            "axis": {"orient": "right", "values": [0, 2, 4], "labels": false, "title": null, "domain": false}
          }
        }
      }
    ]
  },
  "config": {
    "view": {"stroke": "black", "strokeWidth": 1},
    "axis": {
      "grid": false,
      "domainColor": "black",
      "tickColor": "black",
      "tickSize": -4,
      "labelColor": "black",
      "labelFont": "Liberation Sans",
      "labelFontSize": 13,
      "titleColor": "black",
      "titleFont": "Liberation Sans",
      "titleFontSize": 16,
      "titleFontWeight": "normal"
    },
    "axisX": {"labelPadding": 9, "titlePadding": 4},
    "axisY": {"labelPadding": 8, "titlePadding": 4}
  }
}
